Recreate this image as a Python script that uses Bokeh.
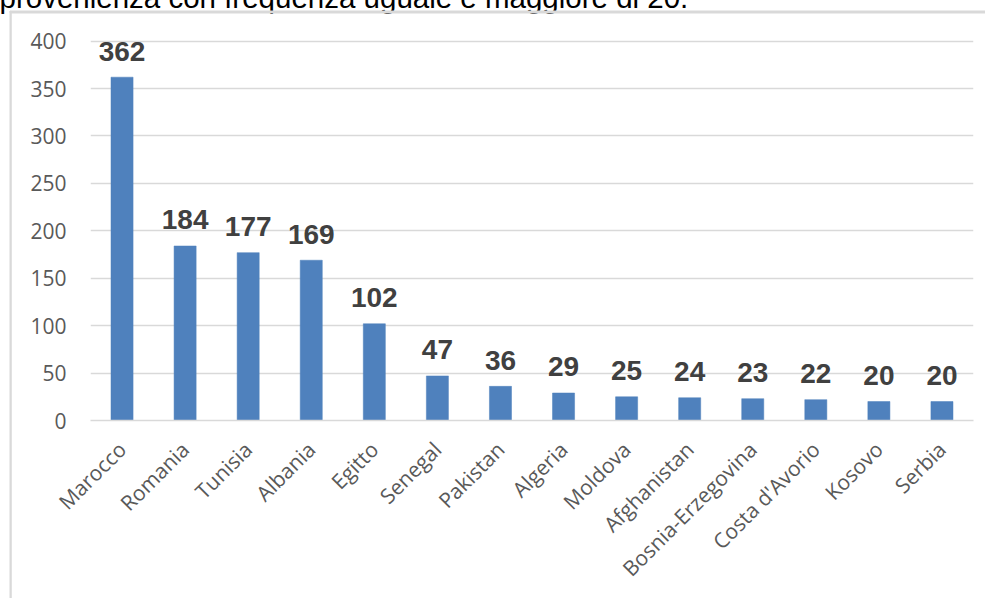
import math
from bokeh.plotting import figure
from bokeh.models import Range1d, FixedTicker, Label
from bokeh.core.properties import value
from bokeh.embed import file_html
from bokeh.resources import INLINE

countries = ["Marocco", "Romania", "Tunisia", "Albania", "Egitto", "Senegal", "Pakistan",
             "Algeria", "Moldova", "Afghanistan", "Bosnia-Erzegovina", "Costa d'Avorio",
             "Kosovo", "Serbia"]
counts = [362, 184, 177, 169, 102, 47, 36, 29, 25, 24, 23, 22, 20, 20]
y_ticks = [0, 50, 100, 150, 200, 250, 300, 350, 400]
heading = "provenienza con frequenza uguale e maggiore di 20."

W, H = 985, 598
p = figure(x_range=countries, y_range=Range1d(0, 407), width=W, height=H,
           output_backend="svg", toolbar_location=None,
           min_border_left=90, min_border_right=12, min_border_top=0, min_border_bottom=178)
p.outline_line_color = None
p.background_fill_color = "white"
p.border_fill_color = "white"

p.vbar(x=countries, top=counts, width=0.35, fill_color="#4F81BD", line_color="#4F81BD", line_width=0.5)
p.text(x=countries, y=counts, text=[str(c) for c in counts], text_align="center",
       text_baseline="alphabetic", y_offset=-26, text_font=value("Liberation Sans"),
       text_font_style="bold", text_font_size="28px", text_color="#404040")

p.xgrid.grid_line_color = None
p.ygrid.grid_line_color = "#D9D9D9"
p.ygrid.grid_line_width = 1.5
p.yaxis.ticker = FixedTicker(ticks=y_ticks)

p.yaxis.axis_line_color = None
p.yaxis.major_tick_line_color = None
p.yaxis.minor_tick_line_color = None
p.yaxis.major_label_standoff = 18
p.yaxis.major_label_text_font = "Open Sans"
p.yaxis.major_label_text_font_size = "21px"
p.yaxis.major_label_text_color = "#595959"

p.xaxis.axis_line_color = "#D9D9D9"
p.xaxis.axis_line_width = 1.5
p.xaxis.major_tick_line_color = None
p.xaxis.minor_tick_line_color = None
p.xaxis.major_label_orientation = math.pi / 4
p.xaxis.major_label_standoff = 19
p.xaxis.major_label_text_font = "Open Sans"
p.xaxis.major_label_text_font_size = "21px"
p.xaxis.major_label_text_color = "#595959"

# heading of the document, partly hidden behind the chart box
p.add_layout(Label(x=-1, y=-3, x_units="canvas", y_units="canvas", text=heading,
                   text_font="Liberation Sans", text_font_size="29.5px", text_color="black",
                   text_baseline="alphabetic", text_align="left"), "above")

# chart box border: top edge and left edge (the others lie outside the picture)
p.add_layout(Label(x=10, y=11, x_units="canvas", y_units="canvas", text=" ",
                   text_font_size="1px", text_align="left", text_baseline="top",
                   padding=(0, 1200, 0, 0), background_fill_color="white",
                   border_line_color="#D9D9D9", border_line_width=2), "above")
p.add_layout(Label(x=10, y=11, x_units="canvas", y_units="canvas", text=" ",
                   text_font_size="1px", text_align="left", text_baseline="top",
                   padding=(0, 0, 1200, 0), background_fill_color="white",
                   border_line_color="#D9D9D9", border_line_width=2), "left")

open("out.html", "w").write(file_html(p, INLINE))
